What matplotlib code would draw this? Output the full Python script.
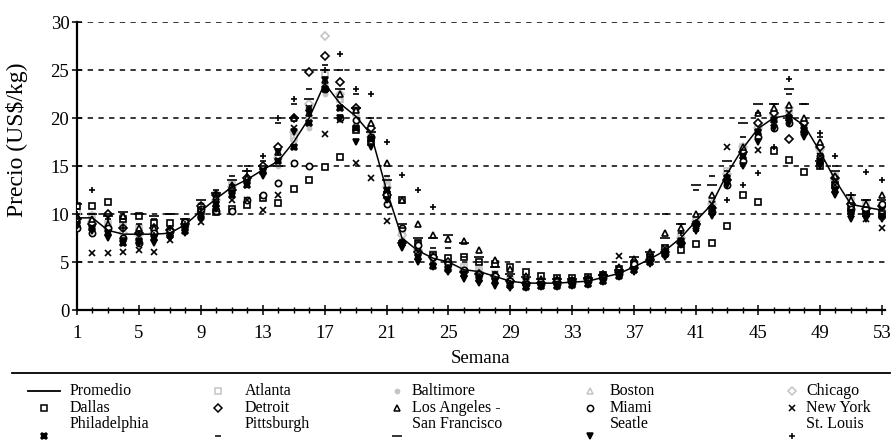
import matplotlib
matplotlib.use("Agg")
import matplotlib.pyplot as plt
from matplotlib.lines import Line2D
from matplotlib.ticker import MultipleLocator

plt.rcParams['font.family'] = ['Liberation Serif', 'DejaVu Serif']

weeks = list(range(1, 54))

promedio = [9.6, 9.6, 8.3, 7.9, 7.9, 7.9, 8.0, 8.9, 10.3, 11.6, 12.8, 13.6, 14.6, 15.5, 17.5, 20.0, 23.6,
            21.5, 20.2, 18.3, 12.5, 7.5, 6.2, 5.4, 5.0, 4.2, 4.0, 3.5, 3.0, 2.8, 2.8, 2.8, 2.9, 3.0, 3.4,
            3.8, 4.5, 5.3, 6.2, 7.5, 9.3, 11.0, 14.2, 16.8, 18.9, 20.0, 20.3, 19.2, 16.5, 13.5, 11.0, 10.7, 10.4]

atlanta = [10.2, 9.8, 9.0, 8.8, 8.5, 8.5, 8.5, 9.2, 10.8, 12.0, 13.0, 13.5, 14.5, 15.8, 18.0, 21.0, 24.5,
           22.0, 20.5, 18.5, 13.0, 8.0, 6.5, 5.8, 5.2, 4.5, 4.2, 3.8, 3.2, 3.0, 3.0, 3.0, 3.1, 3.2, 3.6,
           4.0, 4.7, 5.5, 6.5, 7.8, 9.5, 11.5, 14.5, 17.0, 19.0, 20.5, 20.8, 19.5, 17.0, 14.0, 11.5, 11.0, 10.8]
baltimore = [9.2, 9.5, 8.0, 7.8, 7.5, 7.8, 8.2, 8.8, 10.0, 11.2, 12.5, 13.2, 14.2, 15.0, 17.0, 19.0, 22.5,
             21.0, 19.5, 18.0, 12.0, 7.5, 6.0, 5.2, 4.8, 4.0, 3.8, 3.3, 2.9, 2.7, 2.7, 2.7, 2.8, 2.9, 3.3,
             3.7, 4.4, 5.2, 6.0, 7.2, 9.0, 10.8, 14.0, 16.5, 18.5, 19.8, 20.0, 19.0, 16.2, 13.2, 10.8, 10.5, 10.2]
boston = [9.8, 10.0, 8.8, 8.2, 8.2, 8.0, 8.3, 9.0, 10.5, 11.8, 13.2, 14.0, 15.0, 16.0, 17.8, 20.2, 23.8,
          22.0, 20.5, 18.8, 13.8, 8.5, 6.5, 5.7, 5.2, 4.4, 4.1, 3.6, 3.1, 2.9, 2.9, 2.9, 3.0, 3.1, 3.5,
          3.9, 4.6, 5.4, 6.3, 7.6, 9.5, 11.2, 14.4, 17.0, 19.2, 20.2, 20.6, 19.5, 16.8, 13.8, 11.2, 10.9, 10.6]
chicago = [9.5, 9.2, 8.5, 8.0, 7.8, 8.0, 8.0, 8.8, 10.2, 11.5, 12.8, 13.8, 15.0, 15.8, 18.5, 21.5, 28.5,
           22.5, 21.0, 18.0, 12.8, 7.8, 6.2, 5.4, 5.0, 4.2, 4.0, 3.5, 3.0, 2.8, 2.8, 2.8, 2.9, 3.0, 3.4,
           3.8, 4.5, 5.3, 6.2, 7.5, 9.3, 11.0, 14.2, 17.0, 19.0, 20.3, 21.0, 19.5, 16.8, 13.5, 11.0, 10.7, 10.4]
dallas = [10.8, 10.8, 11.2, 9.5, 9.8, 9.1, 9.1, 9.0, 10.5, 10.2, 10.5, 10.9, 11.7, 11.1, 12.6, 13.5, 14.9,
          15.9, 18.8, 17.5, 12.0, 11.5, 7.0, 5.7, 5.4, 5.5, 5.0, 4.8, 4.5, 4.0, 3.5, 3.3, 3.3, 3.4, 3.6,
          4.3, 4.8, 5.5, 6.5, 6.2, 6.9, 7.0, 8.7, 12.0, 11.3, 16.6, 15.6, 14.4, 15.0, 13.0, 10.5, 10.2, 10.0]
detroit = [9.5, 9.0, 10.0, 8.5, 8.0, 8.5, 8.3, 9.0, 10.8, 12.0, 12.5, 13.8, 15.0, 17.0, 20.0, 24.8, 26.5,
           23.8, 21.0, 19.0, 12.0, 7.0, 6.0, 5.5, 5.0, 4.0, 3.8, 3.5, 3.0, 2.8, 2.8, 2.9, 3.0, 3.2, 3.6,
           4.0, 4.4, 5.2, 6.0, 7.0, 9.0, 10.6, 13.5, 16.5, 19.5, 20.5, 17.8, 19.5, 17.0, 13.8, 11.0, 10.5, 10.8]
los_angeles = [9.8, 9.5, 9.0, 9.8, 8.5, 8.5, 8.0, 9.0, 10.5, 11.8, 13.0, 13.8, 14.5, 16.5, 20.0, 20.5, 24.0,
               22.5, 20.8, 19.5, 15.3, 11.5, 9.0, 7.8, 7.4, 7.2, 6.2, 5.2, 4.3, 3.5, 3.2, 3.2, 3.1, 3.2, 3.6,
               4.5, 5.3, 6.0, 8.0, 8.5, 10.0, 12.0, 14.0, 17.0, 20.5, 21.0, 21.4, 20.0, 17.5, 14.0, 11.5, 11.0, 12.0]
miami = [8.5, 8.0, 8.5, 7.5, 7.0, 8.0, 8.2, 9.2, 10.5, 10.3, 10.3, 11.5, 12.0, 13.2, 15.3, 15.0, 23.0,
         20.0, 19.8, 18.0, 11.0, 8.5, 6.8, 5.5, 4.8, 4.2, 3.8, 3.5, 3.0, 2.7, 2.7, 2.7, 2.8, 3.0, 3.3,
         3.8, 4.8, 5.3, 5.8, 7.0, 9.0, 10.2, 13.0, 15.5, 18.0, 19.0, 19.5, 18.5, 16.0, 13.0, 10.5, 10.0, 11.0]
new_york = [9.0, 5.9, 5.9, 6.0, 6.2, 6.0, 7.3, 8.5, 9.2, 10.5, 11.5, 11.5, 10.4, 12.0, 19.0, 21.0, 18.3,
            19.8, 15.3, 13.7, 9.3, 7.0, 6.0, 5.0, 4.5, 3.8, 3.5, 3.0, 2.6, 2.5, 2.5, 2.6, 2.7, 2.8, 3.0,
            5.6, 4.2, 5.0, 6.5, 7.0, 8.5, 11.0, 17.0, 16.0, 16.7, 19.5, 20.5, 19.0, 16.0, 13.0, 10.0, 9.5, 8.5]
philadelphia = [9.0, 8.5, 8.0, 7.0, 7.2, 7.5, 7.8, 8.2, 9.8, 11.0, 12.0, 13.0, 14.5, 15.5, 17.0, 19.5, 23.0,
                21.0, 19.0, 17.8, 12.5, 7.0, 5.5, 4.6, 4.3, 3.8, 3.2, 3.0, 2.6, 2.4, 2.5, 2.5, 2.6, 2.7, 3.0,
                3.5, 4.2, 5.0, 5.8, 7.2, 9.0, 10.5, 13.8, 16.0, 18.5, 19.8, 20.0, 18.8, 15.5, 12.5, 10.2, 10.0, 9.8]
pittsburgh = [10.5, 10.0, 10.0, 9.5, 9.0, 9.5, 10.0, 9.5, 11.0, 12.5, 14.0, 15.0, 15.5, 19.5, 21.5, 23.0, 25.5,
              25.0, 22.5, 20.0, 14.0, 8.5, 7.2, 6.5, 6.5, 5.5, 5.0, 4.0, 3.5, 3.2, 3.2, 3.3, 3.3, 3.4, 3.8,
              4.5, 5.2, 5.8, 10.0, 9.0, 12.5, 14.0, 14.5, 18.0, 20.5, 21.5, 22.5, 21.5, 18.0, 15.0, 12.0, 11.5, 10.5]
san_francisco = [11.0, 10.0, 9.8, 10.2, 10.0, 9.8, 10.0, 9.5, 11.5, 12.2, 13.5, 14.5, 15.0, 15.0, 20.0, 22.0, 25.0,
                 23.0, 21.0, 18.5, 13.5, 9.0, 7.5, 7.5, 7.8, 7.0, 5.5, 4.5, 3.8, 3.4, 3.2, 3.2, 3.2, 3.3, 3.6,
                 4.2, 5.5, 6.0, 7.5, 9.0, 13.0, 13.0, 15.5, 19.5, 21.5, 21.5, 23.0, 21.5, 15.5, 14.5, 12.0, 11.5, 11.5]
seatle = [8.8, 8.2, 7.5, 7.2, 7.0, 7.0, 7.5, 8.0, 9.5, 10.5, 12.2, 13.2, 14.0, 16.5, 18.5, 20.5, 24.0,
          20.0, 17.5, 17.0, 11.5, 6.5, 5.0, 4.5, 4.0, 3.2, 2.8, 2.5, 2.3, 2.3, 2.4, 2.4, 2.5, 2.6, 2.9,
          3.4, 4.0, 4.8, 5.5, 6.8, 8.2, 9.8, 13.0, 15.0, 17.5, 19.0, 19.5, 18.0, 15.0, 12.0, 9.5, 9.5, 9.5]
st_louis = [10.0, 12.5, 9.5, 8.5, 8.0, 7.8, 8.5, 9.0, 10.5, 12.0, 13.0, 14.5, 16.0, 20.0, 22.0, 21.0, 25.0,
            26.7, 23.0, 22.5, 17.5, 14.1, 12.5, 10.7, 4.5, 4.0, 3.5, 3.2, 2.8, 2.6, 2.6, 2.6, 2.7, 2.9, 3.3,
            4.0, 4.3, 5.5, 6.0, 8.0, 8.2, 10.0, 11.5, 13.0, 14.3, 17.0, 24.1, 18.4, 18.4, 16.0, 12.0, 14.4, 13.5]

GRAY = '#c4c4c4'
# name, values, marker, color, filled, size
cities = [
    ('Atlanta', atlanta, 's', GRAY, False, 4),
    ('Baltimore', baltimore, 'o', GRAY, True, 3),
    ('Boston', boston, '^', GRAY, False, 4),
    ('Chicago', chicago, 'D', GRAY, False, 4),
    ('Dallas', dallas, 's', 'black', False, 4.5),
    ('Detroit', detroit, 'D', 'black', False, 4),
    ('Los Angeles -', los_angeles, '^', 'black', False, 5),
    ('Miami', miami, 'o', 'black', False, 4.5),
    ('New York', new_york, 'x', 'black', True, 4.5),
    ('Philadelphia', philadelphia, 'X', 'black', True, 5),
    ('Pittsburgh', pittsburgh, '_', 'black', True, 5),
    ('San Francisco', san_francisco, '_', 'black', True, 7),
    ('Seatle', seatle, 'v', 'black', True, 4.5),
    ('St. Louis', st_louis, '+', 'black', True, 5),
]

fig = plt.figure(figsize=(8.92, 4.43), dpi=100)
ax = fig.add_axes([0.0863, 0.3002, 0.9058, 0.6501])

for y in range(5, 31, 5):
    ax.axhline(y, color='black', lw=1.1, dashes=(3.5, 3.5), zorder=1)

for name, vals, mk, col, filled, ms in cities:
    ax.plot(weeks, vals, ls='none', marker=mk, ms=ms, mew=1.2, color=col,
            mfc=col if filled else 'white', mec=col, zorder=3)

ax.plot(weeks, promedio, color='black', lw=1.1, zorder=4)

ax.set_xlim(1, 53.2)
ax.set_ylim(0, 30)
ax.set_xticks(range(1, 54, 4))
ax.xaxis.set_minor_locator(MultipleLocator(1))
ax.set_yticks(range(0, 31, 5))
ax.spines['top'].set_visible(False)
ax.spines['right'].set_visible(False)
ax.spines['left'].set_linewidth(1.6)
ax.spines['bottom'].set_linewidth(1.6)
ax.tick_params(axis='both', which='major', direction='inout', length=7, width=1.1, labelsize=13.5, pad=2)
ax.tick_params(axis='x', which='major', pad=7)
ax.tick_params(axis='x', which='minor', direction='inout', length=4, width=1)
ax.set_xlabel('Semana', fontsize=13.5, labelpad=6)
ax.set_ylabel('Precio (US$/kg)', fontsize=17)
ax.yaxis.set_label_coords(-0.0606, 0.59)

# legend drawn under a rule
H = 443.0
W = 892.0
fig.add_artist(Line2D([12 / W, 890 / W], [1 - 373 / H, 1 - 373 / H], color='black', lw=1.3))

entries = [('Promedio', None)] + [(c[0], c) for c in cities]
col_mark = [44, 218, 397, 590, 792]
col_text = [70, 245, 412, 610, 806]
row_y = [391, 408, 424]
for i, (name, c) in enumerate(entries):
    r, k = divmod(i, 5)
    ty = 1 - row_y[r] / H
    my = 1 - (row_y[r] + (12 if r == 2 else 0)) / H
    if c is None:
        fig.add_artist(Line2D([28 / W, 60 / W], [my, my], color='black', lw=1.3))
    else:
        _, _, mk, col, filled, ms = c
        fig.add_artist(Line2D([col_mark[k] / W], [my], ls='none', marker=mk, ms=ms, mew=1.1,
                              color=col, mfc=col if filled else 'white', mec=col))
    fig.text(col_text[k] / W, ty, name, fontsize=11.5, va='center', ha='left')

fig.savefig('out.png', dpi=100)
